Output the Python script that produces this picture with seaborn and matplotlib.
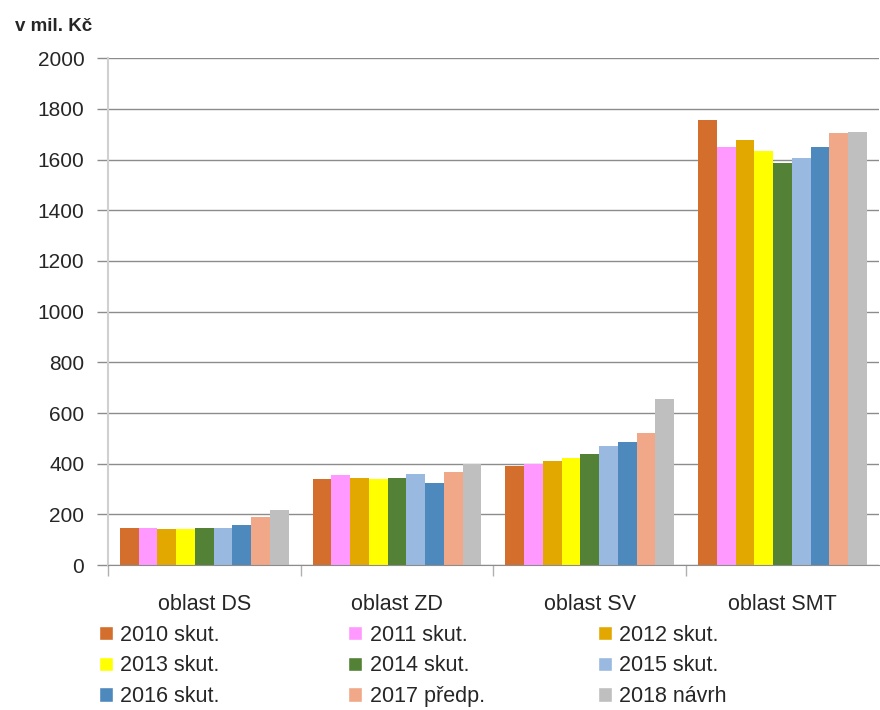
import pandas as pd
import seaborn as sns
import matplotlib.pyplot as plt
from matplotlib.patches import Patch

regions = ['oblast DS', 'oblast ZD', 'oblast SV', 'oblast SMT']
years = ['2010 skut.', '2011 skut.', '2012 skut.', '2013 skut.', '2014 skut.',
         '2015 skut.', '2016 skut.', '2017 předp.', '2018 návrh']
colors = ['#D46E2C', '#FF99FF', '#E3A800', '#FFFF00', '#538135',
          '#9AB9E0', '#4E89BD', '#F0A888', '#BFBFBF']

ds = [148, 147, 142, 142, 147, 147, 158, 189, 218]
zd = [340, 354, 345, 339, 345, 359, 325, 366, 400]
sv = [391, 400, 411, 421, 440, 471, 487, 522, 657]
smt = [1755, 1649, 1679, 1633, 1585, 1608, 1649, 1705, 1709]

rows = []
for reg, vals in zip(regions, [ds, zd, sv, smt]):
    for yr, v in zip(years, vals):
        rows.append({'oblast': reg, 'rok': yr, 'hodnota': v})
df = pd.DataFrame(rows)

sns.set_style('white')
plt.rcParams['font.family'] = ['Liberation Sans', 'DejaVu Sans']

fig = plt.figure(figsize=(8.8, 7.1), dpi=100)
ax = fig.add_axes([0.1227, 0.204, 0.876, 0.714])

sns.barplot(data=df, x='oblast', y='hodnota', hue='rok', hue_order=years,
            palette=colors, width=0.875, gap=0, saturation=1,
            linewidth=0, ax=ax, legend=False)

ax.set_ylim(0, 2000)
ax.set_xlim(-0.5, 3.5)
ax.set_yticks(range(0, 2001, 200))
ax.yaxis.grid(True, color='#8C8C8C', linewidth=1)
ax.set_axisbelow(True)
ax.set_xlabel('')
ax.set_ylabel('')

for s in ['top', 'right']:
    ax.spines[s].set_visible(False)
ax.spines['left'].set_color('#D0D0D0')
ax.spines['left'].set_linewidth(1.5)
ax.spines['bottom'].set_color('#8C8C8C')

ax.tick_params(axis='y', left=True, length=8, width=1, color='#8C8C8C', labelsize=15, pad=9)
ax.tick_params(axis='x', length=0, labelsize=15.5, pad=21)
ax.set_xticks([-0.5, 0.5, 1.5, 2.5], minor=True)
ax.tick_params(axis='x', which='minor', bottom=True, length=8, width=1, color='#B0B0B0')

fig.text(0.017, 0.962, 'v mil. Kč', fontsize=13.5, fontweight='bold', ha='left', va='center')

handles = [Patch(facecolor=c, label=y) for c, y in zip(colors, years)]
col_x = [0.112, 0.396, 0.679]
for k, x0 in enumerate(col_x):
    idx = [k, k + 3, k + 6]
    fig.legend([handles[i] for i in idx], [years[i] for i in idx],
               loc='upper left', bbox_to_anchor=(x0, 0.12), ncol=1,
               frameon=False, fontsize=15.5, handlelength=0.65, handleheight=0.65,
               handletextpad=0.35, labelspacing=0.45, borderaxespad=0,
               borderpad=0)

fig.savefig('out.png', dpi=100)
